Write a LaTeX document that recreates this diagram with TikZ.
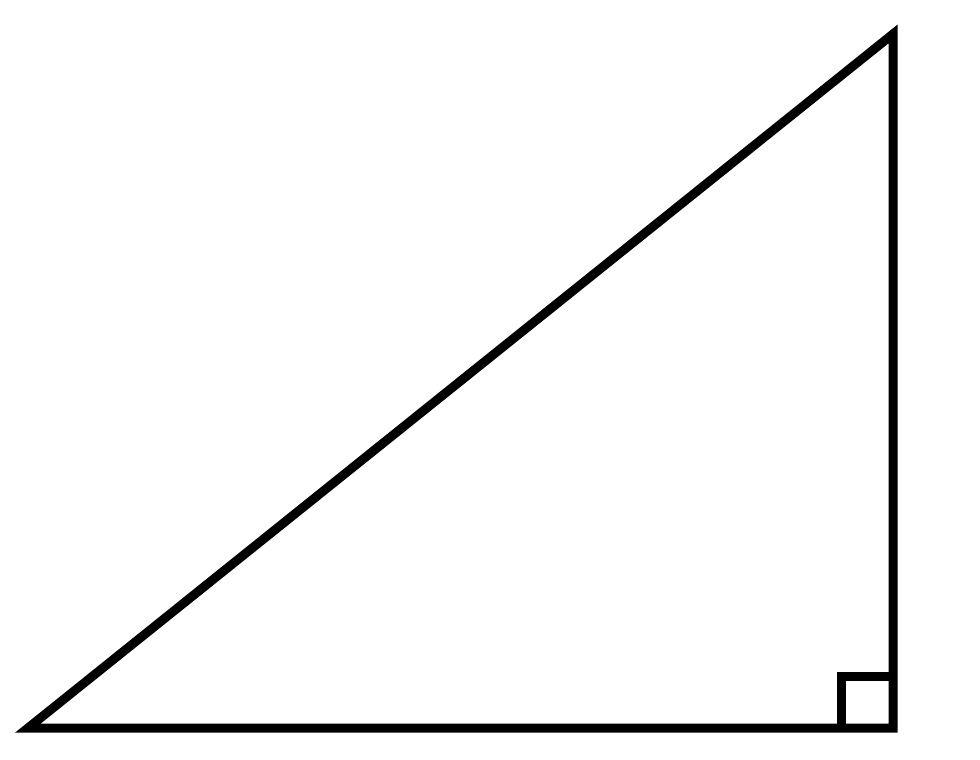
\documentclass[tikz,border=0pt]{standalone}
\begin{document}
\begin{tikzpicture}[x=1pt,y=-1pt,
  edge/.style={draw=black,line width=9pt,line join=miter,miter limit=10}]
\useasboundingbox (0,0) rectangle (980,760);
\fill[white] (0,0) rectangle (980,760);
\coordinate (A) at (28,728);
\coordinate (B) at (893,728);
\coordinate (C) at (893,34);
\draw[edge] (A) -- (B) -- (C) -- cycle;
\draw[edge] (841,728) -- (841,676) -- (893,676);
\end{tikzpicture}
\end{document}
